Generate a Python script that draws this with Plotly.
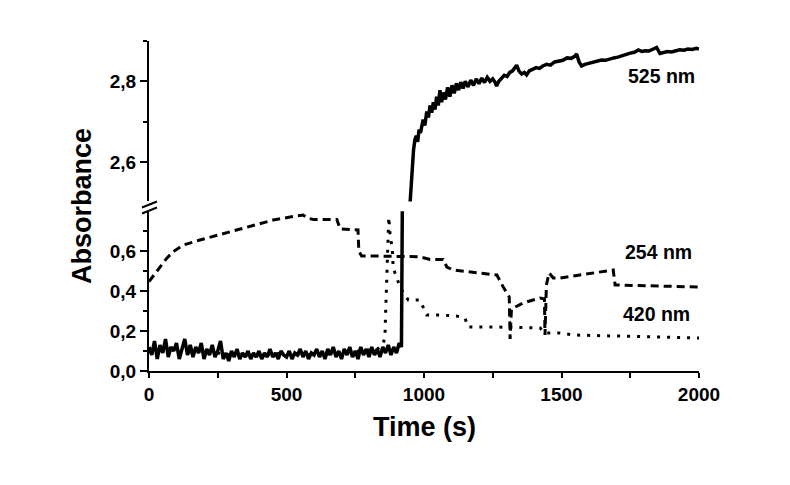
import plotly.graph_objects as go

# ---------------- data ----------------
# 525 nm, lower segment (0 - 0.8 axis)
t525_low = list(range(0, 920, 10)) + [918, 922]
a525_low = [
    0.12, 0.08, 0.15, 0.06, 0.13, 0.09, 0.16, 0.07, 0.12, 0.10,
    0.14, 0.06, 0.11, 0.16, 0.08, 0.13, 0.07, 0.12, 0.09, 0.14,
    0.06, 0.11, 0.08, 0.13, 0.07, 0.10, 0.15, 0.06, 0.09, 0.05,
    0.10, 0.07, 0.11, 0.06, 0.09, 0.07, 0.10, 0.06, 0.09, 0.07,
    0.10, 0.06, 0.09, 0.07, 0.11, 0.07, 0.09, 0.06, 0.10, 0.08,
    0.07, 0.10, 0.06, 0.09, 0.08, 0.11, 0.07, 0.10, 0.06, 0.09,
    0.08, 0.11, 0.07, 0.10, 0.06, 0.11, 0.08, 0.12, 0.07, 0.10,
    0.06, 0.11, 0.08, 0.12, 0.07, 0.10, 0.06, 0.12, 0.08, 0.11,
    0.07, 0.12, 0.08, 0.11, 0.07, 0.12, 0.09, 0.13, 0.08, 0.12,
    0.09, 0.14, 0.12, 1.00,
]

# 525 nm, upper segment (2.5 - 2.9 axis)
t525_up = [940, 949, 953, 958, 962, 967, 972, 977, 982, 987, 992, 997, 1003, 1010,
           1016, 1022, 1028, 1034, 1040, 1046, 1052, 1058, 1064, 1070, 1078, 1086,
           1094, 1102, 1110, 1118, 1126, 1134, 1142, 1150, 1160, 1170, 1180, 1190,
           1200, 1210, 1220, 1230, 1240, 1250, 1258, 1264, 1272, 1282, 1292, 1302,
           1312, 1322, 1330, 1337, 1345, 1355, 1365, 1373, 1383, 1395, 1408, 1420,
           1432, 1446, 1460, 1475, 1490, 1505, 1520, 1535, 1548, 1555, 1564, 1573,
           1585, 1600, 1615, 1630, 1645, 1660, 1675, 1690, 1705, 1720, 1735, 1750,
           1765, 1780, 1792, 1805, 1818, 1832, 1846, 1858, 1870, 1885, 1900, 1915,
           1930, 1945, 1960, 1975, 1990, 2000]
a525_up = [2.40, 2.50, 2.55, 2.60, 2.63, 2.655, 2.665, 2.650, 2.680, 2.672, 2.695, 2.705,
           2.690, 2.725, 2.710, 2.740, 2.722, 2.748, 2.730, 2.762, 2.740, 2.778, 2.748,
           2.772, 2.755, 2.785, 2.762, 2.790, 2.770, 2.795, 2.778, 2.798, 2.782, 2.800,
           2.786, 2.803, 2.790, 2.806, 2.794, 2.808, 2.797, 2.810, 2.800, 2.806, 2.798,
           2.788, 2.800, 2.808, 2.815, 2.812, 2.822, 2.826, 2.832, 2.840, 2.826, 2.818,
           2.822, 2.816, 2.826, 2.830, 2.834, 2.832, 2.838, 2.842, 2.840, 2.848, 2.850,
           2.852, 2.858, 2.857, 2.862, 2.868, 2.848, 2.838, 2.842, 2.845, 2.848, 2.850,
           2.853, 2.852, 2.856, 2.858, 2.860, 2.864, 2.866, 2.870, 2.872, 2.878, 2.874,
           2.876, 2.875, 2.880, 2.884, 2.869, 2.872, 2.874, 2.873, 2.876, 2.878, 2.877,
           2.880, 2.879, 2.882, 2.880]

# 254 nm
t254 = [0, 28, 64, 88, 125, 185, 270, 355, 452, 513, 561, 575, 598, 683, 695, 760,
        763, 773, 828, 985, 1022, 1070, 1083, 1106, 1265, 1288, 1310, 1313, 1318,
        1360, 1422, 1438, 1440, 1445, 1455, 1470, 1495, 1567, 1620, 1688, 1695, 2000]
a254 = [0.447, 0.497, 0.563, 0.597, 0.630, 0.655, 0.688, 0.720, 0.755, 0.770, 0.780,
        0.765, 0.758, 0.758, 0.710, 0.705, 0.600, 0.575, 0.575, 0.571, 0.558, 0.558,
        0.520, 0.505, 0.480, 0.420, 0.370, 0.160, 0.310, 0.340, 0.365, 0.360, 0.180,
        0.430, 0.490, 0.465, 0.465, 0.480, 0.490, 0.505, 0.430, 0.420]

# 420 nm
t420 = [0, 60, 120, 200, 300, 400, 500, 600, 700, 780, 830, 850, 858, 860, 862, 863,
        865, 868, 869, 870, 872, 876, 880, 885, 888, 900, 913, 925, 943, 985, 998,
        1010, 1058, 1118, 1149, 1160, 1265, 1422, 1440, 1495, 1542, 1700, 1850, 2000]
a420 = [0.10, 0.12, 0.09, 0.10, 0.08, 0.08, 0.09, 0.08, 0.09, 0.10, 0.11, 0.13, 0.17,
        0.27, 0.355, 0.42, 0.49, 0.605, 0.646, 0.705, 0.77, 0.69, 0.646, 0.605, 0.515,
        0.465, 0.42, 0.39, 0.355, 0.355, 0.315, 0.28, 0.28, 0.275, 0.265, 0.22, 0.22,
        0.215, 0.19, 0.19, 0.18, 0.175, 0.17, 0.165]

x_ticks = [0, 500, 1000, 1500, 2000]
low_ticks = [0.0, 0.2, 0.4, 0.6]
up_ticks = [2.6, 2.8]

FONT = "Liberation Sans, Arial, sans-serif"

fig = go.Figure()
fig.add_trace(go.Scatter(x=t525_low, y=a525_low, mode="lines", yaxis="y",
                         line=dict(color="black", width=3.5)))
fig.add_trace(go.Scatter(x=t525_up, y=a525_up, mode="lines", yaxis="y2",
                         line=dict(color="black", width=3.5)))
fig.add_trace(go.Scatter(x=t254, y=a254, mode="lines", yaxis="y",
                         line=dict(color="black", width=3, dash="8px,5px")))
fig.add_trace(go.Scatter(x=t420, y=a420, mode="lines", yaxis="y",
                         line=dict(color="black", width=3, dash="3px,7px")))

axis_common = dict(showline=True, linecolor="black", linewidth=2, showgrid=False,
                   zeroline=False, tickcolor="black", tickwidth=2,
                   tickfont=dict(family=FONT, size=19, color="black", weight="bold"))

# page body has an 8px margin: shift the figure up/left by 8px
fig.update_layout(
    width=782, height=477,
    margin=dict(l=141, r=91, t=33, b=114),
    plot_bgcolor="white", paper_bgcolor="white",
    showlegend=False,
    separators=", ",
    xaxis=dict(range=[0, 2000], tickvals=x_ticks, ticks="outside", ticklen=5,
               minor=dict(dtick=250, ticks="outside", ticklen=5, tickwidth=2, tickcolor="black"),
               anchor="y", **axis_common),
    yaxis=dict(range=[0, 0.799], domain=[0, 0.4842], tickvals=low_ticks, tickformat=".1f",
               ticks="outside", ticklen=7,
               minor=dict(dtick=0.1, ticks="outside", ticklen=4, tickwidth=2, tickcolor="black"),
               anchor="x", **axis_common),
    yaxis2=dict(range=[2.502, 2.9], domain=[0.514, 1], tickvals=up_ticks, tickformat=".1f",
                ticks="outside", ticklen=7,
                minor=dict(dtick=0.1, ticks="outside", ticklen=4, tickwidth=2, tickcolor="black"),
                anchor="x", **axis_common),
)

# axis break marks
for y0 in (0.4955, 0.4773):
    fig.add_shape(type="line", xref="paper", yref="paper",
                  x0=-0.0127, x1=0.0145, y0=y0, y1=y0 + 0.018,
                  line=dict(color="black", width=2))

# axis titles
fig.add_annotation(text="Absorbance", xref="paper", yref="paper", x=-0.122, y=0.5,
                   showarrow=False, textangle=-90, xanchor="center", yanchor="middle",
                   font=dict(family=FONT, size=27, color="black", weight="bold"))
fig.add_annotation(text="Time (s)", xref="paper", yref="paper", x=0.5, y=-0.17,
                   showarrow=False, xanchor="center", yanchor="middle",
                   font=dict(family=FONT, size=27, color="black", weight="bold"))

# series labels
lab_font = dict(family=FONT, size=19.5, color="black", weight="bold")
fig.add_annotation(text="525 nm", x=1865, y=2.812, xref="x", yref="y2", showarrow=False,
                   font=lab_font)
fig.add_annotation(text="254 nm", x=1851, y=0.595, xref="x", yref="y", showarrow=False,
                   font=lab_font)
fig.add_annotation(text="420 nm", x=1845, y=0.285, xref="x", yref="y", showarrow=False,
                   font=lab_font)

fig.write_html("out.html")
